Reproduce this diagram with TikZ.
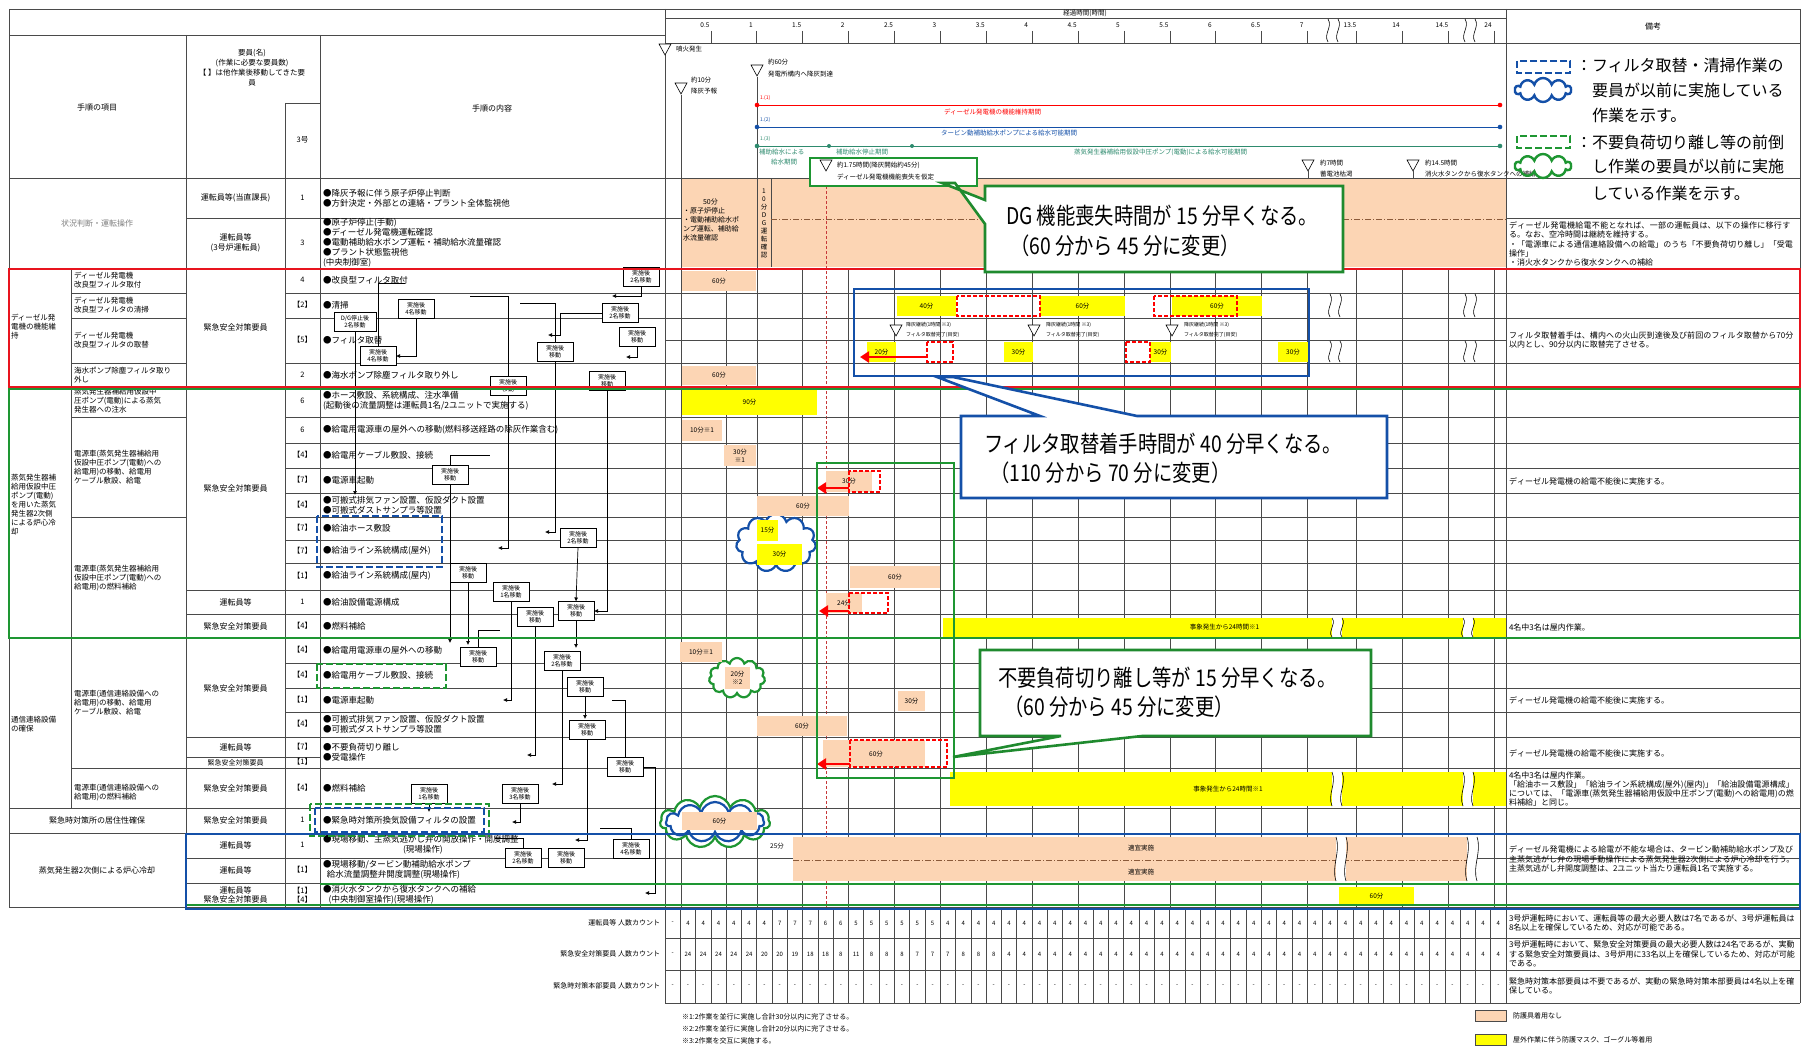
\documentclass[tikz,border=0pt]{standalone}
\usepackage{fontspec}
\setmainfont{Noto Sans CJK JP}
\newfontfamily\callfont[FakeStretch=0.84]{Noto Sans CJK JP}
\usetikzlibrary{arrows.meta,shapes.symbols}
\XeTeXlinebreaklocale "ja"
\XeTeXlinebreakskip=0pt plus 1pt
\definecolor{peach}{HTML}{FCD5B4}
\definecolor{ylw}{HTML}{FFFF00}
\definecolor{rboxc}{HTML}{E8141E}
\definecolor{gboxc}{HTML}{1E9632}
\definecolor{cgreen}{HTML}{1F8A2E}
\definecolor{bboxc}{HTML}{1450A8}
\definecolor{gridc}{HTML}{4A4A4A}
\definecolor{tealtxt}{HTML}{2E8B6E}
\definecolor{brownd}{HTML}{8A5A3A}
\newcommand\hrow[3]{\draw[gl] (#2,#1) -- (#3,#1);}
\newcommand\trimark[2]{\filldraw[vmk] ({#1-6},{#2-6}) -- ({#1+6},{#2-6}) -- (#1,{#2+5}) -- cycle;}
\newcommand\cellbar[7]{\fill[#1] (#3,#4) rectangle (#5,#6); \node[tn,align=center] (#2) at ({(#3+#5)/2},{(#4+#6)/2}) {#7};}
\newcommand\olddash[4]{\draw[rdash] (#1,#2) rectangle (#3,#4);}
\newcommand\wavebreak[3]{\fill[white] ({#1-5},#2) rectangle ({#1+5},#3);
  \draw[line width=0.6pt] ({#1-5},#2) .. controls ({#1},{#2+(#3-#2)*0.35}) and ({#1-10},{#2+(#3-#2)*0.65}) .. ({#1-5},#3);
  \draw[line width=0.6pt] ({#1+5},#2) .. controls ({#1+10},{#2+(#3-#2)*0.35}) and ({#1},{#2+(#3-#2)*0.65}) .. ({#1+5},#3);}
\begin{document}
\begin{tikzpicture}[x=1pt,y=-1pt,
  every node/.style={inner sep=0pt,outer sep=0pt},
  tn/.style={font=\fontsize{6.5}{7.8}\selectfont},
  ctx/.style={font=\fontsize{8.5}{10}\selectfont,anchor=west,align=left},
  clab/.style={font=\fontsize{7.5}{9}\selectfont,anchor=west,align=left},
  cnum/.style={font=\fontsize{7.5}{9}\selectfont,align=center},
  cmem/.style={font=\fontsize{8}{9.5}\selectfont,align=center},
  rmk/.style={font=\fontsize{8}{9.3}\selectfont,anchor=west,align=left,text width=286pt},
  gl/.style={draw=gridc,line width=0.8pt},
  thinl/.style={draw=gridc,line width=0.6pt},
  rdash/.style={draw=red,line width=1.6pt,dash pattern=on 4pt off 2pt},
  redarr/.style={draw=red,line width=2.4pt,-{Triangle[length=9pt,width=11pt]}},
  mvbox/.style={draw=black,fill=white,line width=0.8pt,font=\fontsize{6}{7}\selectfont,align=center,minimum width=36pt,minimum height=19pt,inner sep=1pt},
  mvline/.style={draw=black,line width=0.7pt},
  mvarr/.style={draw=black,line width=0.7pt,-{Latex[length=4pt,width=4pt]}},
  bdash/.style={draw=bboxc,line width=2.6pt,dash pattern=on 7pt off 3pt},
  gdash/.style={draw=gboxc,line width=2.6pt,dash pattern=on 7pt off 3pt},
  callg/.style={draw=cgreen,line width=2.6pt,fill=white},
  callb/.style={draw=bboxc,line width=2.6pt,fill=white},
  calltxt/.style={font=\callfont\fontsize{23}{27}\selectfont,anchor=west},
  legtxt/.style={font=\fontsize{16}{19}\selectfont,anchor=west},
  vmk/.style={draw=black,line width=0.6pt,fill=white},
  cld/.style={cloud,cloud puffs=11,cloud ignores aspect,fill=white,line width=2.2pt},
]
\fill[white] (0,0) rectangle (1803,1046);
\useasboundingbox (0,0) rectangle (1803,1046);

% ---------- fills behind grid
\fill[peach] (681,179) rectangle (1506,267);

% ---------- chart grid
\foreach \m in {90,120,...,420} \draw[gl] ({665+1.53*\m},268) -- ({665+1.53*\m},907);
\foreach \xx in {726,1356,1402,1448,1494} \draw[gl] (\xx,268) -- (\xx,907);
\draw[gl] (681,95) -- (681,907);
\draw[gl] (757,77) -- (757,907);
\draw[gl] (771,179) -- (771,267);
\draw[draw=brownd,line width=0.8pt,dash pattern=on 6pt off 2pt on 1pt off 2pt] (771,219) -- (1506,219);
\draw[draw=red!55!gray,line width=0.7pt,dash pattern=on 3pt off 2pt] (826,186) -- (826,907);

% ---------- table rows
\hrow{9}{9}{1800}
\hrow{35}{9}{665}
\hrow{18}{665}{1506}
\hrow{43}{665}{1800}
\hrow{178}{9}{1800}
\hrow{218}{186}{681}
\hrow{218}{1506}{1800}
\hrow{268}{9}{1800}
\hrow{293}{71}{186} \hrow{293}{285}{1800}
\hrow{318}{71}{186} \hrow{318}{285}{1800}
\hrow{340}{665}{1506}
\hrow{363}{71}{186} \hrow{363}{285}{1800}
\hrow{386}{9}{1800}
\hrow{417}{71}{186} \hrow{417}{285}{1800}
\hrow{443}{285}{1800} \hrow{468}{285}{1800} \hrow{493}{285}{1800}
\hrow{517}{71}{186} \hrow{517}{285}{1800}
\hrow{540}{285}{1800} \hrow{563}{285}{1800}
\hrow{590}{186}{1800} \hrow{614}{186}{1800}
\hrow{638}{9}{1800}
\hrow{663}{285}{1800} \hrow{688}{285}{1800} \hrow{712}{285}{1800}
\hrow{737}{186}{1800}
\hrow{757}{186}{320}
\hrow{768}{71}{1800}
\hrow{808}{9}{1800}
\hrow{833}{9}{1800}
\hrow{858}{186}{1800} \hrow{883}{186}{1800}
\hrow{907}{9}{1800}
\hrow{938}{665}{1800} \hrow{970}{665}{1800} \hrow{1003}{665}{1800}
\draw[gl] (9,9) -- (9,907);
\draw[gl] (71,268) -- (71,808);
\draw[gl] (186,35) -- (186,907);
\draw[gl] (285,103) -- (285,907);
\draw[gl] (285,103) -- (320,103);
\draw[gl] (320,35) -- (320,907);
\draw[gl] (665,9) -- (665,1003);
\draw[gl] (1506,9) -- (1506,1003);
\draw[gl] (1800,9) -- (1800,1003);
\foreach \i in {1,...,54} \draw[thinl] ({665+15.29*\i},908) -- ({665+15.29*\i},1003);

% ---------- time axis header
\node[tn] (ttl) at (1085,13.5) {経過時間(時間)};
\foreach \m/\l [count=\i] in {30/0.5,60/1,90/1.5,120/2,150/2.5,180/3,210/3.5,240/4,270/4.5,300/5,330/5.5,360/6,390/6.5,420/7} {
  \node[tn] (tk\i) at ({665+1.53*\m-6},25) {\l};
  \draw[gl] ({665+1.53*\m},31) -- ({665+1.53*\m},43);}
\foreach \xx/\l [count=\i] in {1356/13.5,1402/14,1448/14.5,1494/24} {
  \node[tn] (tz\i) at (\xx-6,25) {\l};
  \draw[gl] (\xx,31) -- (\xx,43);}
\wavebreak{1333}{19}{42}
\wavebreak{1470}{19}{42}

% markers
\trimark{665}{50}
\node[tn,anchor=west] (h1) at (676,49) {噴火発生};
\trimark{681}{89}
\node[tn,anchor=west] (h2) at (691,80) {約10分};
\node[tn,anchor=west] (h3) at (691,91) {降灰予報};
\trimark{757}{71}
\node[tn,anchor=west] (h4) at (768,62) {約60分};
\node[tn,anchor=west] (h5) at (768,74) {発電所構内へ降灰到達};

\draw[red,line width=0.9pt] (757,105) -- (1500,105);
\fill[red] (757,105) circle (2.3) (1500,105) circle (2.3);
\node[font=\fontsize{5}{6}\selectfont,text=red,anchor=west] (l1) at (760,98) {1.(1)};
\node[tn,text=red,anchor=west] (l2) at (944,112) {ディーゼル発電機の機能維持期間};
\draw[bboxc,line width=0.9pt] (757,127) -- (1500,127);
\fill[bboxc] (757,127) circle (2.3) (1500,127) circle (2.3);
\node[font=\fontsize{5}{6}\selectfont,text=bboxc,anchor=west] (l3) at (760,120) {1.(2)};
\node[tn,text=bboxc,anchor=west] (l4) at (941,133) {タービン動補助給水ポンプによる給水可能期間};
\draw[tealtxt,line width=0.9pt] (757,146) -- (1500,146);
\fill[tealtxt] (757,146) circle (2.3) (829,146) circle (2) (912,146) circle (2) (1500,146) circle (2.3);
\node[font=\fontsize{5}{6}\selectfont,text=tealtxt,anchor=west] (l5) at (760,139) {1.(3)};
\node[tn,text=tealtxt,anchor=west] (l6) at (759,152) {補助給水による};
\node[tn,text=tealtxt,anchor=west] (l7) at (771,162) {給水期間};
\node[tn,text=tealtxt,anchor=west] (l8) at (836,152) {補助給水停止期間};
\node[tn,text=tealtxt,anchor=west] (l9) at (1074,152) {蒸気発生器補給用仮設中圧ポンプ(電動)による給水可能期間};

\filldraw[draw=gboxc,fill=white,line width=2.4pt] (810,158) rectangle (977,186);
\trimark{826}{166}
\node[tn,anchor=west] (g1) at (837,165) {約1.75時間(降灰開始約45分)};
\node[tn,anchor=west] (g2) at (837,177) {ディーゼル発電機機能喪失を仮定};
\trimark{1308}{166}
\draw[gl] (1308,171) -- (1308,178);
\node[tn,anchor=west] (g3) at (1320,163) {約7時間};
\node[tn,anchor=west] (g4) at (1320,174) {蓄電池枯渇};
\trimark{1413}{166}
\draw[gl] (1413,171) -- (1413,178);
\node[tn,anchor=west] (g5) at (1425,163) {約14.5時間};
\node[tn,anchor=west] (g6) at (1425,174) {消火水タンクから復水タンクへの補給};

% ---------- situation block
\node[font=\fontsize{7}{9}\selectfont,align=left,anchor=north west] (p50) at (683,199) {\hspace*{20pt}50分\\・原子炉停止\\・電動補助給水ポ\\ンプ運転、補助給\\水流量確認};
\node[font=\fontsize{6.5}{8}\selectfont,align=center] (p10) at (764,223) {1\\0\\分\\D\\G\\運\\転\\確\\認};

% ---------- clouds (behind bars)
\node[cld,draw=bboxc,minimum width=80pt,minimum height=58pt] (cl1) at (776,543) {};
\node[cld,draw=gboxc,minimum width=56pt,minimum height=40pt] (cl2) at (737,678) {};
\node[cld,draw=gboxc,minimum width=110pt,minimum height=52pt] (cl3) at (715,822) {};
\node[cld,draw=bboxc,minimum width=98pt,minimum height=40pt] (cl4) at (715,822) {};

% ---------- bars
\cellbar{peach}{r1}{682}{271}{756}{291}{60分}
\cellbar{peach}{r2}{682}{366}{756}{385}{60分}
\cellbar{ylw}{r3}{897}{296}{956}{316}{40分}
\cellbar{ylw}{r4}{1040}{296}{1125}{316}{60分}
\cellbar{ylw}{r5}{1172}{296}{1262}{316}{60分}
\olddash{957}{296}{1040}{316}
\olddash{1154}{296}{1237}{316}
\trimark{896}{331}
\node[font=\fontsize{5}{6}\selectfont,anchor=west] (m1) at (906,325) {降灰継続(1時間 ※3)};
\node[font=\fontsize{5}{6}\selectfont,anchor=west] (m2) at (906,335) {フィルタ取替完了(目安)};
\trimark{1034}{331}
\node[font=\fontsize{5}{6}\selectfont,anchor=west] (m3) at (1046,325) {降灰継続(1時間 ※3)};
\node[font=\fontsize{5}{6}\selectfont,anchor=west] (m4) at (1046,335) {フィルタ取替完了(目安)};
\trimark{1172}{331}
\node[font=\fontsize{5}{6}\selectfont,anchor=west] (m5) at (1184,325) {降灰継続(1時間 ※3)};
\node[font=\fontsize{5}{6}\selectfont,anchor=west] (m6) at (1184,335) {フィルタ取替完了(目安)};
\cellbar{ylw}{r6}{867}{342}{896}{362}{20分}
\cellbar{ylw}{r7}{1004}{342}{1033}{362}{30分}
\cellbar{ylw}{r8}{1150}{342}{1171}{362}{30分}
\cellbar{ylw}{r9}{1278}{342}{1308}{362}{30分}
\olddash{927}{342}{953}{362}
\olddash{1126}{342}{1150}{362}
\wavebreak{1335}{294}{317}
\wavebreak{1470}{294}{317}
\wavebreak{1335}{341}{362}
\wavebreak{1470}{341}{362}

\cellbar{ylw}{r10}{682}{389}{817}{415}{90分}
\cellbar{peach}{r11}{682}{420}{722}{441}{10分※1}
\cellbar{peach}{r12}{724}{445}{756}{466}{30分\\※1}
\cellbar{peach}{r13}{826}{471}{872}{492}{30分}
\olddash{849}{471}{880}{492}
\cellbar{peach}{r14}{757}{496}{849}{516}{60分}
\cellbar{ylw}{r15}{757}{520}{778}{541}{15分}
\cellbar{ylw}{r16}{757}{544}{802}{565}{30分}
\cellbar{peach}{r17}{850}{566}{940}{588}{60分}
\cellbar{peach}{r18}{826}{593}{862}{613}{24分}
\olddash{849}{593}{888}{613}
\cellbar{ylw}{r19}{943}{618}{1506}{637}{事象発生から24時間※1}
\wavebreak{1337}{618}{637}
\wavebreak{1468}{618}{637}

\cellbar{peach}{r20}{680}{642}{722}{662}{10分※1}
\cellbar{peach}{r21}{725}{667}{750}{689}{20分\\※2}
\cellbar{peach}{r22}{898}{691}{925}{711}{30分}
\cellbar{peach}{r23}{757}{716}{847}{736}{60分}
\cellbar{peach}{r24}{823}{740}{925}{767}{}
\olddash{850}{740}{947}{767}
\node[tn] (r24t) at (876,754) {60分};
\cellbar{ylw}{r25}{950}{772}{1506}{806}{事象発生から24時間※1}
\wavebreak{1337}{772}{806}
\wavebreak{1468}{772}{806}
\cellbar{peach}{r26}{682}{812}{757}{830}{60分}
\node[tn] (r27) at (777,846) {25分};
\fill[peach] (793,837) rectangle (1474,881);
\draw[brownd,line width=0.8pt,dash pattern=on 6pt off 2pt on 1pt off 2pt] (793,860) -- (1474,860);
\node[tn] (r28) at (1141,848) {適宜実施};
\node[tn] (r29) at (1141,872) {適宜実施};
\wavebreak{1341}{837}{881}
\wavebreak{1472}{837}{881}
\cellbar{ylw}{r30}{1339}{887}{1414}{906}{60分}

% red arrows
\coordinate (ra1) at (927,357); \coordinate (ra1e) at (860,357);
\draw[redarr] (ra1) -- (ra1e);
\coordinate (ra2) at (849,488); \coordinate (ra2e) at (817,488);
\draw[redarr] (ra2) -- (ra2e);
\coordinate (ra3) at (849,611); \coordinate (ra3e) at (819,611);
\draw[redarr] (ra3) -- (ra3e);
\coordinate (ra4) at (850,764); \coordinate (ra4e) at (817,764);
\draw[redarr] (ra4) -- (ra4e);

% ---------- left columns text
\node[cmem] (hd1) at (97,107) {手順の項目};
\node[font=\fontsize{7.5}{10}\selectfont,align=center] (hd2) at (252,68) {要員(名)\\(作業に必要な要員数)\\【\ 】は他作業後移動してきた要\\員};
\node[cnum] (hd3) at (302.5,140) {3号};
\node[cmem] (hd4) at (492,108) {手順の内容};
\node[cmem] (hd5) at (1653,26) {備考};

\node[cmem,text=gray] (a1) at (97,223) {状況判断・運転操作};
\node[clab] (a2) at (11,327) {ディーゼル発\\電機の機能維\\持};
\node[clab] (a3) at (74,280) {ディーゼル発電機\\改良型フィルタ取付};
\node[clab] (a4) at (74,305) {ディーゼル発電機\\改良型フィルタの清掃};
\node[clab] (a5) at (74,340) {ディーゼル発電機\\改良型フィルタの取替};
\node[clab] (a6) at (74,375) {海水ポンプ除塵フィルタ取り\\外し};
\node[clab] (a7) at (11,505) {蒸気発生器補\\給用仮設中圧\\ポンプ(電動)\\を用いた蒸気\\発生器2次側\\による炉心冷\\却};
\node[clab] (a8) at (74,401) {蒸気発生器補給用仮設中\\圧ポンプ(電動)による蒸気\\発生器への注水};
\node[clab] (a9) at (74,467) {電源車(蒸気発生器補給用\\仮設中圧ポンプ(電動)への\\給電用)の移動、給電用\\ケーブル敷設、給電};
\node[clab] (a10) at (74,578) {電源車(蒸気発生器補給用\\仮設中圧ポンプ(電動)への\\給電用)の燃料補給};
\node[clab] (a11) at (11,724) {通信連絡設備\\の確保};
\node[clab] (a12) at (74,703) {電源車(通信連絡設備への\\給電用)の移動、給電用\\ケーブル敷設、給電};
\node[clab] (a13) at (74,793) {電源車(通信連絡設備への\\給電用)の燃料補給};
\node[cmem] (a14) at (97,820) {緊急時対策所の居住性確保};
\node[cmem] (a15) at (97,870) {蒸気発生器2次側による炉心冷却};

\foreach \yy/\vv [count=\i] in {198/運転員等(当直課長),243/{運転員等\\(3号炉運転員)},327/緊急安全対策要員,488/緊急安全対策要員,602/運転員等,626/緊急安全対策要員,688/緊急安全対策要員,747/運転員等,788/緊急安全対策要員,820/緊急安全対策要員,845/運転員等,870/運転員等,895/{運転員等\\緊急安全対策要員}}
  \node[cmem] (mb\i) at (235.5,\yy) {\vv};
\node[font=\fontsize{7}{8}\selectfont] (mb99) at (235.5,762.5) {緊急安全対策要員};

\foreach \yy/\vv [count=\i] in {198/1,243/3,280/4,305/【2】,340/【5】,375/2,401/6,430/6,455/【4】,480/【7】,505/【4】,528/【7】,551/【7】,576/【1】,602/1,626/【4】,650/【4】,675/【4】,700/【1】,724/【4】,747/【7】,762/【1】,788/【4】,820/1,845/1,870/【1】,895/{【1】\\【4】}}
  \node[cnum] (nm\i) at (302.5,\yy) {\vv};

\node[ctx] (k1) at (323,198) {●降灰予報に伴う原子炉停止判断\\●方針決定・外部との連絡・プラント全体監視他};
\node[ctx] (k2) at (323,243) {●原子炉停止(手動)\\●ディーゼル発電機運転確認\\●電動補助給水ポンプ運転・補助給水流量確認\\●プラント状態監視他\\(中央制御室)};
\node[ctx] (k3) at (323,280) {●改良型フィルタ取付};
\node[ctx] (k4) at (323,305) {●清掃};
\node[ctx] (k5) at (323,340) {●フィルタ取替};
\node[ctx] (k6) at (323,375) {●海水ポンプ除塵フィルタ取り外し};
\node[ctx] (k7) at (323,401) {●ホース敷設、系統構成、注水準備\\(起動後の流量調整は運転員1名/2ユニットで実施する)};
\node[ctx] (k8) at (323,430) {●給電用電源車の屋外への移動(燃料移送経路の除灰作業含む)};
\node[ctx] (k9) at (323,455) {●給電用ケーブル敷設、接続};
\node[ctx] (k10) at (323,480) {●電源車起動};
\node[ctx] (k11) at (323,505) {●可搬式排気ファン設置、仮設ダクト設置\\●可搬式ダストサンプラ等設置};
\node[ctx] (k12) at (323,528) {●給油ホース敷設};
\node[ctx] (k13) at (323,551) {●給油ライン系統構成(屋外)};
\node[ctx] (k14) at (323,576) {●給油ライン系統構成(屋内)};
\node[ctx] (k15) at (323,602) {●給油設備電源構成};
\node[ctx] (k16) at (323,626) {●燃料補給};
\node[ctx] (k17) at (323,650) {●給電用電源車の屋外への移動};
\node[ctx] (k18) at (323,675) {●給電用ケーブル敷設、接続};
\node[ctx] (k19) at (323,700) {●電源車起動};
\node[ctx] (k20) at (323,724) {●可搬式排気ファン設置、仮設ダクト設置\\●可搬式ダストサンプラ等設置};
\node[ctx] (k21) at (323,752) {●不要負荷切り離し\\●受電操作};
\node[ctx] (k22) at (323,788) {●燃料補給};
\node[ctx] (k23) at (323,820) {●緊急時対策所換気設備フィルタの設置};
\node[ctx] (k24) at (323,845) {●現場移動、主蒸気逃がし弁の開放操作・開度調整\\\hspace*{80pt}(現場操作)};
\node[ctx] (k25) at (323,870) {●現場移動/タービン動補助給水ポンプ\\\ \ 給水流量調整弁開度調整(現場操作)};
\node[ctx] (k26) at (323,895) {●消火水タンクから復水タンクへの補給\\\ \ \ (中央制御室操作)(現場操作)};

% ---------- flow boxes
\node[mvbox] (b1) at (641,277) {実施後\\2名移動};
\node[mvbox] (b2) at (416,309) {実施後\\4名移動};
\node[mvbox,minimum width=42pt] (b3) at (355,322) {D/G停止後\\2名移動};
\node[mvbox] (b4) at (620,313) {実施後\\2名移動};
\node[mvbox] (b5) at (637,337) {実施後\\移動};
\node[mvbox] (b6) at (555,352) {実施後\\移動};
\node[mvbox] (b7) at (378,356) {実施後\\4名移動};
\node[mvbox] (b8) at (508,386) {実施後\\移動};
\node[mvbox] (b9) at (607,381) {実施後\\移動};
\node[mvbox] (b10) at (450,475) {実施後\\移動};
\node[mvbox] (b11) at (578,538) {実施後\\2名移動};
\node[mvbox] (b12) at (468,573) {実施後\\移動};
\node[mvbox] (b13) at (511,592) {実施後\\1名移動};
\node[mvbox] (b14) at (576,611) {実施後\\移動};
\node[mvbox] (b15) at (535,617) {実施後\\移動};
\node[mvbox] (b16) at (478,657) {実施後\\移動};
\node[mvbox] (b17) at (562,661) {実施後\\2名移動};
\node[mvbox] (b18) at (585,687) {実施後\\移動};
\node[mvbox] (b19) at (587,730) {実施後\\移動};
\node[mvbox] (b20) at (625,767) {実施後\\移動};
\node[mvbox] (b21) at (429,794) {実施後\\1名移動};
\node[mvbox] (b22) at (520,794) {実施後\\3名移動};
\node[mvbox] (b23) at (631,849) {実施後\\4名移動};
\node[mvbox] (b24) at (523,858) {実施後\\2名移動};
\node[mvbox] (b25) at (566,858) {実施後\\移動};

\coordinate (e1) at (612,296);
\coordinate (e2) at (548,335);
\coordinate (e4) at (626,357);
\coordinate (e5) at (545,532);
\coordinate (e6) at (498,548);
\coordinate (e8) at (450,643);
\coordinate (e10) at (468,645);
\coordinate (e11) at (503,700);
\coordinate (e12) at (527,755);
\coordinate (e13) at (576,648);
\coordinate (e14) at (552,784);
\coordinate (e15) at (585,719);
\coordinate (e16) at (575,840);
\coordinate (e17) at (645,893);
\coordinate (e18) at (512,822);
\coordinate (e19) at (429,812);
\coordinate (e20) at (355,495);
\draw[mvarr] (b1.south) |- (e1);
\draw[mvarr] (b4.west) -- ++(-42,0) |- (e2);
\draw[mvarr] (b2.south) |- (b7.east);
\draw[mvarr] (b5.south) |- (e4);
\draw[mvarr] (b6.south) |- (e5);
\draw[mvarr] (b8.south) |- (e6);
\draw[mvarr] (b9.south) |- (b14.east);
\draw[mvarr] (b10.south) -- (e8);
\draw[mvarr] (b11.south) -- (b14.north);
\draw[mvarr] (b12.south) -- (e10);
\draw[mvarr] (b13.south) |- (e11);
\draw[mvarr] (b15.south) |- (e12);
\draw[mvarr] (b14.south) -- (e13);
\draw[mvarr] (b17.south) |- (e14);
\draw[mvarr] (b18.south) -- (e15);
\draw[mvarr] (b19.south) |- (e16);
\draw[mvarr] (b20.east) -- ++(12,0) |- (e17);
\draw[mvarr] (b22.south) |- (e18);
\draw[mvarr] (b21.south) -- (e19);
\draw[mvarr] (b3.south) -- (e20);
\coordinate (f1) at (405,283);
\coordinate (f2) at (470,296);
\coordinate (f3) at (520,303);
\coordinate (f4) at (612,700);
\coordinate (f5) at (600,828);
\coordinate (f6) at (495,838);
\coordinate (f7) at (490,455);
\coordinate (f8) at (500,630);
\draw[mvline] (b7.north) |- (f1);
\draw[mvline] (b8.north) |- (f2);
\draw[mvline] (b6.north) |- (f3);
\draw[mvline] (b20.north) |- (f4);
\draw[mvline] (b23.north) |- (f5);
\draw[mvline] (b24.north) |- (f6);
\draw[mvline] (b10.north) |- (f7);
\draw[mvline] (b16.north) |- (f8);

% dashed boxes
\draw[bdash] (317,516) rectangle (442,567);
\draw[gdash] (317,664) rectangle (446,688);
\draw[gdash] (310,804) rectangle (489,836);
\draw[bdash] (315,808) rectangle (484,832);

% ---------- section boxes
\draw[rboxc,line width=2.6pt] (9,269) rectangle (1800,387);
\draw[gboxc,line width=2pt] (9,389) rectangle (1800,638);
\draw[gboxc,line width=2pt] (320,884) -- (1800,884);
\draw[gboxc,line width=1.6pt] (186,905) -- (1800,905);
\draw[bboxc,line width=2.6pt] (186,834) rectangle (1800,909);
\draw[bboxc,line width=2.6pt] (854,289) rectangle (1309,376);
\draw[gboxc,line width=2.6pt] (817,463) rectangle (954,778);

% ---------- remarks
\node[rmk] (q1) at (1509,244) {ディーゼル発電機給電不能となれば、一部の運転員は、以下の操作に移行する。なお、空冷時間は継続を維持する。\\・「電源車による通信連絡設備への給電」のうち「不要負荷切り離し」「受電操作」\\・消火水タンクから復水タンクへの補給};
\node[rmk] (q2) at (1509,340) {フィルタ取替着手は、構内への火山灰到達後及び前回のフィルタ取替から70分以内とし、90分以内に取替完了させる。};
\node[rmk] (q3) at (1509,481) {ディーゼル発電機の給電不能後に実施する。};
\node[rmk] (q4) at (1509,627) {4名中3名は屋内作業。};
\node[rmk] (q5) at (1509,700) {ディーゼル発電機の給電不能後に実施する。};
\node[rmk] (q6) at (1509,753) {ディーゼル発電機の給電不能後に実施する。};
\node[rmk] (q7) at (1509,789) {4名中3名は屋内作業。\\「給油ホース敷設」「給油ライン系統構成(屋外)(屋内)」「給油設備電源構成」については、「電源車(蒸気発生器補給用仮設中圧ポンプ(電動)への給電用)の燃料補給」と同じ。};
\node[rmk] (q8) at (1509,859) {ディーゼル発電機による給電が不能な場合は、タービン動補助給水ポンプ及び主蒸気逃がし弁の現場手動操作による蒸気発生器2次側による炉心冷却を行う。主蒸気逃がし弁開度調整は、2ユニット当たり運転員1名で実施する。};
\node[rmk] (q9) at (1509,923) {3号炉運転時において、運転員等の最大必要人数は7名であるが、3号炉運転員は8名以上を確保しているため、対応が可能である。};
\node[rmk] (q10) at (1509,954) {3号炉運転時において、緊急安全対策要員の最大必要人数は24名であるが、実動する緊急安全対策要員は、3号炉用に33名以上を確保しているため、対応が可能である。};
\node[rmk] (q11) at (1509,986) {緊急時対策本部要員は不要であるが、実動の緊急時対策本部要員は4名以上を確保している。};

% ---------- counts
\node[font=\fontsize{7}{8}\selectfont,anchor=east] (cn1) at (660,923) {運転員等 人数カウント};
\node[font=\fontsize{7}{8}\selectfont,anchor=east] (cn2) at (660,954) {緊急安全対策要員 人数カウント};
\node[font=\fontsize{7}{8}\selectfont,anchor=east] (cn3) at (660,986) {緊急時対策本部要員 人数カウント};
\foreach \v [count=\i from 0] in {-,4,4,4,4,4,4,7,7,7,6,6,5,5,5,5,5,5,4,4,4,4,4,4,4,4,4,4,4,4,4,4,4,4,4,4,4,4,4,4,4,4,4,4,4,4,4,4,4,4,4,4,4,4,4}
  \node[font=\fontsize{6}{7}\selectfont] (ca\i) at ({665+15.29*(\i+0.5)},923) {\v};
\foreach \v [count=\i from 0] in {-,24,24,24,24,24,20,20,19,18,18,8,11,8,8,8,7,7,7,8,8,8,4,4,4,4,4,4,4,4,4,4,4,4,4,4,4,4,4,4,4,4,4,4,4,4,4,4,4,4,4,4,4,4,4}
  \node[font=\fontsize{6}{7}\selectfont] (cb\i) at ({665+15.29*(\i+0.5)},954) {\v};
\foreach \i in {0,...,54}
  \node[font=\fontsize{6}{7}\selectfont] (cc\i) at ({665+15.29*(\i+0.5)},986) {-};

% ---------- notes and legend bottom
\node[font=\fontsize{7}{8}\selectfont,anchor=west] (nt1) at (682,1017) {※1:2作業を並行に実施し合計30分以内に完了させる。};
\node[font=\fontsize{7}{8}\selectfont,anchor=west] (nt2) at (682,1029) {※2:2作業を並行に実施し合計20分以内に完了させる。};
\node[font=\fontsize{7}{8}\selectfont,anchor=west] (nt3) at (682,1041) {※3:2作業を交互に実施する。};
\filldraw[fill=peach,draw=gridc,line width=0.6pt] (1475,1010) rectangle (1506,1021);
\node[font=\fontsize{7}{8}\selectfont,anchor=west] (lg1) at (1513,1016) {防護具着用なし};
\filldraw[fill=ylw,draw=gridc,line width=0.6pt] (1475,1034) rectangle (1506,1045);
\node[font=\fontsize{7}{8}\selectfont,anchor=west] (lg2) at (1513,1040) {屋外作業に伴う防護マスク、ゴーグル等着用};

% ---------- legend top right
\draw[bdash] (1517,61) rectangle (1570,73);
\node[cloud,cloud puffs=10,cloud ignores aspect,draw=bboxc,line width=2.4pt,minimum width=56pt,minimum height=24pt] (lc1) at (1543,90) {};
\draw[gdash] (1517,136) rectangle (1570,148);
\node[cloud,cloud puffs=10,cloud ignores aspect,draw=gboxc,line width=2.4pt,minimum width=56pt,minimum height=24pt] (lc2) at (1543,166) {};
\node[legtxt] (lt1) at (1576,65) {：フィルタ取替・清掃作業の};
\node[legtxt] (lt2) at (1592,90) {要員が以前に実施している};
\node[legtxt] (lt3) at (1592,115) {作業を示す。};
\node[legtxt] (lt4) at (1576,142) {：不要負荷切り離し等の前倒};
\node[legtxt] (lt5) at (1592,166) {し作業の要員が以前に実施};
\node[legtxt] (lt6) at (1592,193) {している作業を示す。};

% ---------- callouts
\draw[callg] (985,186) -- (1343,186) -- (1343,272) -- (985,272) -- (985,224) -- (955,183) -- (942,183) -- (985,200) -- cycle;
\node[calltxt] (co1) at (1006,216) {DG 機能喪失時間が 15 分早くなる。};
\node[calltxt] (co2) at (1010,246) {（60 分から 45 分に変更）};
\draw[callb] (961,416) -- (1040,416) -- (937,377) -- (953,377) -- (1137,416) -- (1387,416) -- (1387,498) -- (961,498) -- cycle;
\node[calltxt] (co3) at (984,444) {フィルタ取替着手時間が 40 分早くなる。};
\node[calltxt] (co4) at (990,473) {（110 分から 70 分に変更）};
\draw[callg] (980,650) -- (1371,650) -- (1371,736) -- (1142,736) -- (953,757) -- (1061,736) -- (980,736) -- cycle;
\node[calltxt] (co5) at (998,678) {不要負荷切り離し等が 15 分早くなる。};
\node[calltxt] (co6) at (1004,707) {（60 分から 45 分に変更）};
\end{tikzpicture}
\end{document}
